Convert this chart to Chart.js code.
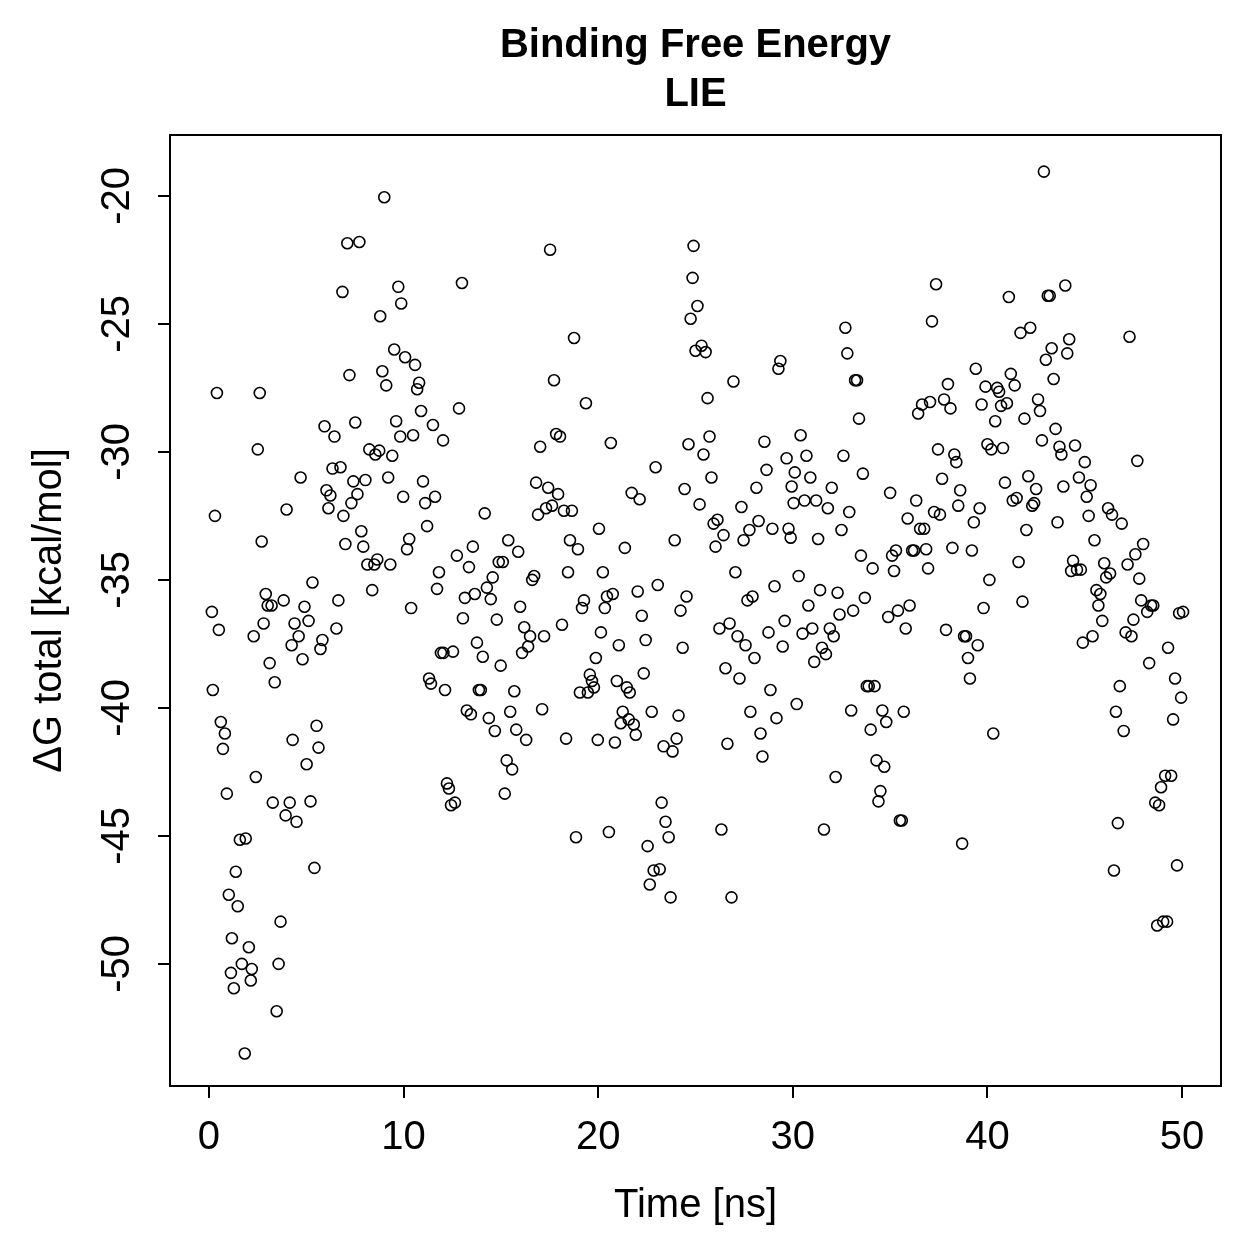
<!DOCTYPE html>
<html>
<head>
<meta charset="utf-8">
<title>Binding Free Energy - LIE</title>
<script src="https://cdn.jsdelivr.net/npm/chart.js@4.4.1/dist/chart.umd.min.js"></script>
<style>
    html, body { margin: 0; padding: 0; background: #ffffff; }
    canvas { display: block; }
</style>
</head>
<body>
<canvas id="lieChart" width="1259" height="1259"></canvas>
<script>
// LIE binding free energy over simulation time

// Time [ns] of each frame
const timeNs = [
    0.15, 0.2, 0.31, 0.41, 0.51, 0.61, 0.72, 0.82, 0.92, 1.02, 1.18, 1.13, 1.28, 1.38, 1.48, 1.59, 1.69, 1.84, 1.89, 2.05, 2.15, 2.2,
    2.3, 2.41, 2.51, 2.61, 2.71, 2.81, 2.92, 3.02, 3.12, 3.22, 3.28, 3.38, 3.48, 3.58, 3.68, 3.84, 3.94, 3.99,
    4.15, 4.25, 4.3, 4.4, 4.5, 4.61, 4.71, 4.81, 4.91, 5.02, 5.12, 5.22, 5.32, 5.42, 5.53, 5.63, 5.73, 5.83, 5.94,
    6.04, 6.14, 6.24, 6.35, 6.45, 6.55, 6.65, 6.76, 6.86, 6.91, 7.01, 7.11, 7.22, 7.32, 7.42, 7.52, 7.63, 7.73, 7.83, 7.93,
    8.04, 8.14, 8.24, 8.39, 8.5, 8.55, 8.65, 8.75, 8.8, 8.91, 9.01, 9.11, 9.21, 9.32, 9.42, 9.52, 9.62, 9.73, 9.83, 9.88, 9.98,
    10.08, 10.18, 10.29, 10.39, 10.49, 10.59, 10.7, 10.8, 10.9, 11.0, 11.11, 11.21, 11.31, 11.41, 11.51, 11.62, 11.72, 11.82, 11.92, 12.03,
    12.05, 12.13, 12.23, 12.33, 12.44, 12.54, 12.64, 12.74, 12.85, 13.0, 13.05, 13.15, 13.25, 13.36, 13.46, 13.56, 13.66, 13.77, 13.87, 13.97,
    14.07, 14.17, 14.28, 14.38, 14.48, 14.58, 14.69, 14.79, 14.89, 14.99, 15.1, 15.2, 15.3, 15.38, 15.48, 15.58, 15.69, 15.79, 15.89, 15.99,
    16.09, 16.2, 16.3, 16.4, 16.5, 16.61, 16.71, 16.81, 16.91, 17.02, 17.12, 17.22, 17.32, 17.43, 17.53, 17.63, 17.73, 17.84, 17.94, 18.04,
    18.14, 18.24, 18.35, 18.45, 18.55, 18.65, 18.76, 18.86, 18.96, 19.06, 19.17, 19.27, 19.37, 19.47, 19.57, 19.68, 19.78, 19.88, 19.98, 20.04,
    20.14, 20.24, 20.34, 20.45, 20.55, 20.65, 20.75, 20.86, 20.96, 21.06, 21.16, 21.26, 21.37, 21.47, 21.57, 21.62, 21.72, 21.83, 21.93, 22.03,
    22.13, 22.24, 22.34, 22.44, 22.54, 22.65, 22.75, 22.85, 22.95, 23.06, 23.16, 23.26, 23.36, 23.46, 23.62, 23.72, 23.82, 23.93, 24.03,
    24.13, 24.23, 24.34, 24.44, 24.54, 24.64, 24.75, 24.85, 24.9, 25.0, 25.1, 25.21, 25.31, 25.41, 25.52, 25.62, 25.72, 25.82, 25.93, 26.03,
    26.13, 26.23, 26.33, 26.44, 26.54, 26.64, 26.75, 26.85, 26.95, 27.05, 27.16, 27.26, 27.36, 27.47, 27.57, 27.67, 27.77, 27.82, 27.93, 28.03,
    28.13, 28.24, 28.34, 28.44, 28.54, 28.65, 28.75, 28.85, 28.95, 29.06, 29.16, 29.26, 29.36, 29.48, 29.58, 29.68, 29.78, 29.89, 29.94, 30.04,
    30.1, 30.2, 30.3, 30.4, 30.5, 30.6, 30.7, 30.8, 30.9, 31.0, 31.1, 31.2, 31.3, 31.4, 31.5, 31.6, 31.7, 31.8, 31.9, 32.0,
    32.1, 32.2, 32.3, 32.4, 32.5, 32.6, 32.7, 32.8, 32.9, 33.0, 33.1, 33.2, 33.3, 33.4, 33.5, 33.6, 33.7, 33.8, 33.9, 34.0,
    34.1, 34.2, 34.3, 34.4, 34.5, 34.6, 34.7, 34.8, 34.9, 35.0, 35.1, 35.2, 35.3, 35.4, 35.5, 35.6, 35.7, 35.8, 35.9, 36.0,
    36.13, 36.23, 36.34, 36.44, 36.54, 36.64, 36.75, 36.85, 36.95, 37.05, 37.15, 37.26, 37.36, 37.46, 37.56, 37.67, 37.77, 37.87, 37.97,
    38.1, 38.2, 38.3, 38.4, 38.5, 38.6, 38.7, 38.8, 38.9, 39.0, 39.1, 39.2, 39.3, 39.4, 39.5, 39.6, 39.7, 39.8, 39.9, 40.0,
    40.1, 40.2, 40.3, 40.4, 40.5, 40.6, 40.7, 40.8, 40.9, 41.0, 41.1, 41.2, 41.3, 41.4, 41.5, 41.6, 41.7, 41.8, 41.9, 42.0,
    42.1, 42.2, 42.3, 42.4, 42.5, 42.6, 42.7, 42.8, 42.9, 43.0, 43.1, 43.2, 43.3, 43.4, 43.5, 43.6, 43.7, 43.8, 43.9, 44.0,
    44.1, 44.2, 44.3, 44.4, 44.5, 44.6, 44.7, 44.8, 44.9, 45.0, 45.1, 45.2, 45.3, 45.4, 45.5, 45.6, 45.7, 45.8, 45.9, 46.0,
    46.1, 46.2, 46.3, 46.4, 46.5, 46.6, 46.7, 46.8, 46.9, 47.0, 47.1, 47.2, 47.3, 47.4, 47.5, 47.6, 47.7, 47.8, 47.9, 48.0,
    48.21, 48.31, 48.41, 48.52, 48.62, 48.72, 48.82, 48.92, 49.03, 49.13, 49.23, 49.28, 49.44, 49.54, 49.64, 49.74, 49.85, 49.95, 50.05
];

// Delta G total [kcal/mol] for each frame
const deltaG = [
    -36.25, -39.3, -32.5, -27.7, -36.95, -40.55, -41.6, -41.0, -43.35, -47.3, -49.0, -50.35, -50.95, -46.4, -47.75, -45.15, -50.0, -53.5, -45.1, -49.35, -50.65, -50.2,
    -37.2, -42.7, -29.9, -27.7, -33.5, -36.7, -35.55, -36.0, -38.25, -36.0, -43.7, -39.0, -51.85, -50.0, -48.35, -35.8, -44.2, -32.25,
    -43.7, -37.55, -41.25, -36.7, -44.45, -37.2, -31.0, -38.1, -36.05, -42.2, -36.6, -43.65, -35.1, -46.25, -40.7, -41.55, -37.7, -37.35, -29.0,
    -31.5, -32.2, -31.7, -30.65, -29.4, -36.9, -35.8, -30.6, -23.75, -32.5, -33.6, -21.85, -27.0, -32.0, -31.15, -28.85, -31.65, -21.8, -33.1, -33.7,
    -31.1, -34.4, -29.9, -35.4, -34.4, -30.1, -34.2, -29.95, -24.7, -26.85, -20.05, -27.4, -31.0, -34.4, -30.15, -26.0, -28.8, -23.55, -29.4, -24.2, -31.75,
    -26.3, -33.8, -33.4, -36.1, -29.35, -26.6, -27.55, -27.3, -28.4, -31.15, -32.0, -32.9, -38.85, -39.05, -28.95, -31.75, -35.35, -34.7, -37.85, -29.55,
    -37.85, -39.3, -42.95, -43.15, -43.8, -37.8, -43.7, -34.05, -28.3, -23.4, -36.5, -35.7, -40.1, -34.5, -40.25, -33.7, -35.55, -37.45, -39.3, -39.3,
    -38.0, -32.4, -35.3, -40.4, -35.75, -34.9, -40.9, -36.55, -34.3, -38.35, -34.3, -43.35, -42.05, -33.45, -40.15, -42.4, -39.35, -40.85, -33.9, -36.05,
    -37.85, -36.85, -41.25, -37.6, -37.2, -35.0, -34.85, -31.2, -32.45, -29.8, -40.05, -37.2, -32.2, -31.4, -22.1, -32.1, -27.2, -29.3, -31.65, -29.4,
    -36.75, -32.3, -41.2, -34.7, -33.45, -32.3, -25.55, -45.05, -33.8, -39.4, -36.1, -35.8, -28.1, -39.4, -38.7, -38.95, -39.2, -38.05, -41.25, -33.0,
    -37.05, -34.7, -36.1, -35.65, -44.85, -29.65, -35.55, -41.35, -38.95, -37.55, -40.6, -40.15, -33.75, -39.2, -40.45, -39.4, -31.6, -40.65, -41.05, -35.45,
    -31.85, -36.4, -38.65, -37.35, -45.4, -46.9, -40.15, -46.35, -30.6, -35.2, -46.3, -43.7, -41.5, -44.45, -45.05, -47.4, -41.7, -33.45, -41.2,
    -40.3, -36.2, -37.65, -31.45, -35.65, -29.7, -24.8, -23.2, -21.95, -26.05, -24.3, -32.05, -25.85, -30.1, -26.1, -27.9, -29.4, -31.0, -32.8, -33.7,
    -32.65, -36.9, -44.75, -33.25, -38.45, -41.4, -36.7, -47.4, -27.25, -34.7, -37.2, -38.85, -32.15, -33.45, -37.55, -35.8, -33.05, -40.15, -35.65, -38.05,
    -31.4, -32.7, -41.0, -41.9, -29.6, -30.7, -37.05, -39.3, -33.0, -35.25, -40.4, -26.75, -26.45, -37.6, -36.6, -30.25, -33.0, -33.35, -31.35, -32.0,
    -30.8, -39.85, -34.85, -29.35, -37.1, -31.9, -30.15, -36.0, -31.0, -36.9, -38.2, -31.9, -33.4, -35.4, -37.65, -44.75, -37.9, -32.2, -36.9, -31.4,
    -37.2, -42.7, -35.5, -36.35, -33.05, -30.15, -25.15, -26.15, -32.35, -40.1, -36.2, -27.2, -27.2, -28.7, -34.05, -30.85, -35.7, -39.15, -39.15, -40.85,
    -34.55, -39.15, -42.05, -43.65, -43.25, -40.1, -42.3, -40.55, -36.45, -31.6, -34.05, -34.65, -33.85, -36.2, -44.4, -44.4, -40.15, -36.9, -32.6, -36.0,
    -33.85, -33.85, -31.9, -28.5, -33.0, -28.15, -33.0, -33.8, -34.55, -28.05, -24.9, -32.35, -23.45, -29.9, -32.45, -31.05, -27.95, -36.95, -27.35,
    -28.3, -33.75, -30.1, -30.4, -32.1, -31.5, -45.3, -37.2, -37.2, -38.05, -38.85, -33.85, -32.75, -26.75, -37.55, -32.2, -28.15, -36.1, -27.45, -29.7,
    -35.0, -29.9, -41.0, -28.8, -27.5, -27.65, -28.2, -29.85, -31.2, -28.1, -23.95, -26.95, -31.9, -27.4, -31.8, -34.3, -25.35, -35.85, -28.7, -33.05,
    -30.95, -25.15, -32.1, -32.0, -31.45, -27.95, -28.4, -29.55, -19.05, -26.4, -23.9, -23.9, -25.95, -27.15, -29.1, -32.75, -29.8, -30.1, -31.35, -23.5,
    -26.15, -25.6, -34.65, -34.25, -29.75, -34.6, -31.0, -34.6, -37.45, -30.4, -31.75, -32.5, -31.3, -37.2, -33.45, -35.4, -36.0, -35.55, -36.6, -34.35,
    -34.9, -32.2, -34.75, -32.45, -46.35, -40.15, -44.5, -39.15, -32.8, -40.9, -37.05, -34.4, -25.5, -37.2, -36.55, -34.0, -30.35, -34.95, -35.8, -33.6,
    -36.25, -38.25, -36.0, -36.0, -43.7, -48.5, -43.8, -43.1, -48.35, -42.65, -48.35, -37.65, -42.65, -40.45, -38.85, -46.15, -36.3, -39.6, -36.25
];

// Axis tick labels and title lines
const xTicks = [0, 10, 20, 30, 40, 50];
const yTicks = [-20, -25, -30, -35, -40, -45, -50];
const titleLines = ['Binding Free Energy', 'LIE'];

const FONT_FAMILY = '"Liberation Sans", Arial, Helvetica, sans-serif';

document.addEventListener('DOMContentLoaded', function() {
    initLieChart();
});

/**
 * Closed box round the plotting region, like R's box()
 */
const plotBox = {
    id: 'plotBox',
    afterDraw: function(chart) {
        const area = chart.chartArea;
        const ctx = chart.ctx;
        ctx.save();
        ctx.strokeStyle = '#000000';
        ctx.lineWidth = 2;
        ctx.strokeRect(area.left, area.top, area.right - area.left, area.bottom - area.top);
        ctx.restore();
    }
};

/**
 * Main title centred over the plot area (R centres it on the plot, not the page)
 */
const plotTitle = {
    id: 'plotTitle',
    afterDraw: function(chart) {
        const area = chart.chartArea;
        const ctx = chart.ctx;
        const cx = (area.left + area.right) / 2;
        ctx.save();
        ctx.fillStyle = '#000000';
        ctx.font = 'bold 40px ' + FONT_FAMILY;
        ctx.textAlign = 'center';
        ctx.textBaseline = 'middle';
        titleLines.forEach(function(line, i) {
            ctx.fillText(line, cx, 46 + i * 49);
        });
        ctx.restore();
    }
};

function initLieChart() {
    const ctx = document.getElementById('lieChart');
    if (!ctx) return;

    const points = timeNs.map(function(t, i) {
        return { x: t, y: deltaG[i] };
    });

    const data = {
        datasets: [{
            label: 'ΔG total',
            data: points,
            showLine: false,
            pointStyle: 'circle',
            pointRadius: 5.5,
            pointBorderWidth: 1.6,
            pointBorderColor: '#000000',
            pointBackgroundColor: 'rgba(0, 0, 0, 0)'
        }]
    };

    const options = {
        responsive: false,
        devicePixelRatio: 1,
        animation: false,
        layout: {
            padding: { left: 0, right: 38, top: 135, bottom: 0 }
        },
        plugins: {
            legend: { display: false },
            tooltip: { enabled: false },
            title: { display: false }
        },
        scales: {
            x: {
                type: 'linear',
                min: -2,
                max: 52,
                afterBuildTicks: function(scale) {
                    scale.ticks = xTicks.map(function(v) { return { value: v }; });
                },
                afterFit: function(scale) {
                    scale.height = 173;
                },
                grid: {
                    drawOnChartArea: false,
                    drawTicks: true,
                    tickLength: 12,
                    color: '#000000',
                    lineWidth: 2
                },
                border: { display: true, color: '#000000', width: 2 },
                ticks: {
                    color: '#000000',
                    padding: 16,
                    maxRotation: 0,
                    font: { family: FONT_FAMILY, size: 40 },
                    callback: function(value) { return String(value); }
                },
                title: {
                    display: true,
                    text: 'Time [ns]',
                    color: '#000000',
                    font: { family: FONT_FAMILY, size: 40, lineHeight: 1.2 },
                    padding: { top: 0, bottom: 29 }
                }
            },
            y: {
                type: 'linear',
                min: -54.77,
                max: -17.62,
                afterBuildTicks: function(scale) {
                    scale.ticks = yTicks.map(function(v) { return { value: v }; });
                },
                afterFit: function(scale) {
                    scale.width = 170;
                },
                grid: {
                    drawOnChartArea: false,
                    drawTicks: true,
                    tickLength: 12,
                    color: '#000000',
                    lineWidth: 2
                },
                border: { display: true, color: '#000000', width: 2 },
                ticks: {
                    color: '#000000',
                    padding: 11,
                    minRotation: 90,
                    maxRotation: 90,
                    crossAlign: 'center',
                    font: { family: FONT_FAMILY, size: 40 },
                    callback: function(value) { return String(value); }
                },
                title: {
                    display: true,
                    text: 'ΔG total [kcal/mol]',
                    color: '#000000',
                    font: { family: FONT_FAMILY, size: 40, lineHeight: 1.2 },
                    padding: { top: 26, bottom: 0 }
                }
            }
        }
    };

    window.lieChart = new Chart(ctx, {
        type: 'scatter',
        data: data,
        options: options,
        plugins: [plotBox, plotTitle]
    });
}
</script>
</body>
</html>
